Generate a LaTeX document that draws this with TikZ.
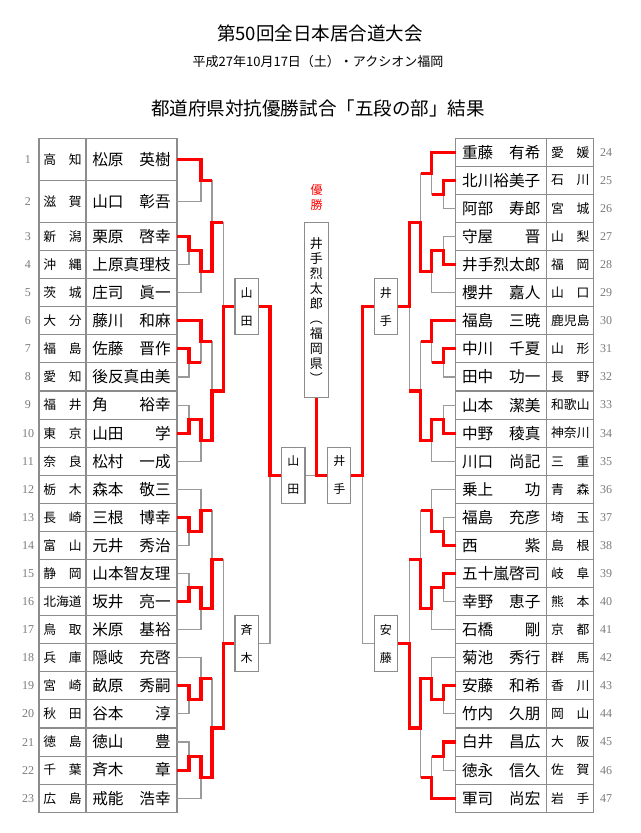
\documentclass[tikz,border=0pt]{standalone}
\usepackage{fontspec}
\setmainfont{Liberation Serif}
\newfontfamily\jp{Noto Sans CJK JP}
\definecolor{tabgray}{HTML}{8C8C8C}
\definecolor{brgray}{HTML}{9A9A9A}
\definecolor{numgray}{HTML}{7A7A7A}
\definecolor{wred}{HTML}{FF0000}
\newcommand\namefont{\jp\fontsize{11.7pt}{12pt}\selectfont}
\newcommand\preffont{\jp\fontsize{9.6pt}{10pt}\selectfont}
\newcommand\boxfont{\jp\fontsize{9pt}{21pt}\selectfont}
\newcommand\numfont{\fontsize{9pt}{10pt}\selectfont}
\newcommand\gm[3]{\draw[gl] (#2) -- (#2 -| #1) -- (#3 -| #1) -- (#3);}
\tikzset{
  cell/.style={draw=tabgray, line width=0.8pt, inner sep=0pt, minimum height=21.06pt},
  namec/.style={cell, minimum width=68.25pt, font=\namefont},
  prefc/.style={cell, minimum width=35.25pt, font=\preffont},
  num/.style={font=\numfont, text=numgray, inner sep=0pt},
  gl/.style={draw=brgray, line width=0.8pt},
  rl/.style={draw=wred, line width=2.3pt},
  bx/.style={draw=tabgray, fill=white, line width=0.8pt, minimum width=17.5pt, minimum height=42pt, inner sep=0pt, align=center, font=\boxfont},
}
\begin{document}
\begin{tikzpicture}[x=0.75pt,y=-0.75pt]
\useasboundingbox (0,0) rectangle (640,833);
% titles
\node (title) at (320,33) {\jp\fontsize{13.9pt}{14pt}\selectfont 第50回全日本居合道大会};
\node (sub) at (318,62) {\jp\fontsize{9.75pt}{10pt}\selectfont 平成27年10月17日（土）・アクシオン福岡};
\node (head) at (318,108) {\jp\fontsize{13.9pt}{14pt}\selectfont 都道府県対抗優勝試合「五段の部」結果};
% left table, tall rows
\node[prefc, minimum height=31.59pt] (p1) at (62.5,159.36) {\makebox[28.8pt]{高\hfill 知}};
\node[namec, minimum height=31.59pt] (n1) at (131.5,159.36) {\makebox[58.8pt]{松原\hfill 英樹}};
\node[num] (k1) at (28,159.36) {1};
\coordinate (t1) at (177,159.36);
\node[prefc, minimum height=31.59pt] (p2) at (62.5,201.48) {\makebox[28.8pt]{滋\hfill 賀}};
\node[namec, minimum height=31.59pt] (n2) at (131.5,201.48) {\makebox[58.8pt]{山口\hfill 彰吾}};
\node[num] (k2) at (28,201.48) {2};
\coordinate (t2) at (177,201.48);
\foreach \k/\p/\n in {3/新\hfill 潟/栗原\hfill 啓幸,4/沖\hfill 縄/上原真理枝,5/茨\hfill 城/庄司\hfill 眞一,6/大\hfill 分/藤川\hfill 和麻,7/福\hfill 島/佐藤\hfill 晋作,8/愛\hfill 知/後反真由美,9/福\hfill 井/角\hfill 裕幸,10/東\hfill 京/山田\hfill 学,11/奈\hfill 良/松村\hfill 一成,12/栃\hfill 木/森本\hfill 敬三,13/長\hfill 崎/三根\hfill 博幸,14/富\hfill 山/元井\hfill 秀治,15/静\hfill 岡/山本智友理,16/北海道/坂井\hfill 亮一,17/鳥\hfill 取/米原\hfill 基裕,18/兵\hfill 庫/隠岐\hfill 充啓,19/宮\hfill 崎/畝原\hfill 秀嗣,20/秋\hfill 田/谷本\hfill 淳,21/徳\hfill 島/徳山\hfill 豊,22/千\hfill 葉/斉木\hfill 章,23/広\hfill 島/戒能\hfill 浩幸}{
  \node[prefc] (p\k) at (62.5,{138.3+(\k+0.5)*28.08}) {\makebox[28.8pt]{\p}};
  \node[namec] (n\k) at (131.5,{138.3+(\k+0.5)*28.08}) {\makebox[58.8pt]{\n}};
  \node[num] (k\k) at (28,{138.3+(\k+0.5)*28.08}) {\k};
  \coordinate (t\k) at (177,{138.3+(\k+0.5)*28.08});
}
% right table
\foreach \k/\p/\n in {24/愛\hfill 媛/重藤\hfill 有希,25/石\hfill 川/北川裕美子,26/宮\hfill 城/阿部\hfill 寿郎,27/山\hfill 梨/守屋\hfill 晋,28/福\hfill 岡/井手烈太郎,29/山\hfill 口/櫻井\hfill 嘉人,30/鹿児島/福島\hfill 三暁,31/山\hfill 形/中川\hfill 千夏,32/長\hfill 野/田中\hfill 功一,33/和歌山/山本\hfill 潔美,34/神奈川/中野\hfill 稜真,35/三\hfill 重/川口\hfill 尚記,36/青\hfill 森/乗上\hfill 功,37/埼\hfill 玉/福島\hfill 充彦,38/島\hfill 根/西\hfill 紫,39/岐\hfill 阜/五十嵐啓司,40/熊\hfill 本/幸野\hfill 恵子,41/京\hfill 都/石橋\hfill 剛,42/群\hfill 馬/菊池\hfill 秀行,43/香\hfill 川/安藤\hfill 和希,44/岡\hfill 山/竹内\hfill 久朋,45/大\hfill 阪/白井\hfill 昌広,46/佐\hfill 賀/徳永\hfill 信久,47/岩\hfill 手/軍司\hfill 尚宏}{
  \node[namec] (n\k) at (501.2,{138.3+(\k-23.5)*28.08}) {\makebox[58.8pt]{\n}};
  \node[prefc] (p\k) at (570.35,{138.3+(\k-23.5)*28.08}) {\makebox[28.8pt]{\p}};
  \node[num] (k\k) at (606,{138.3+(\k-23.5)*28.08}) {\k};
  \coordinate (t\k) at (455.7,{138.3+(\k-23.5)*28.08});
}
% boxes
\node[bx] (bL1) at (246.65,306.76) {山\\田};
\node[bx] (bL2) at (246.65,643.74) {斉\\木};
\node[bx] (bR1) at (385.95,306.78) {井\\手};
\node[bx] (bR2) at (385.95,643.74) {安\\藤};
\node[bx] (sL) at (293.35,475.25) {山\\田};
\node[bx] (sR) at (339.25,475.25) {井\\手};
\node[bx, minimum width=18pt, minimum height=131.25pt, font=\jp\fontsize{9.75pt}{11.25pt}\selectfont] (champ) at (316.3,310.2) {井\\手\\烈\\太\\郎\\︵\\福\\岡\\県\\︶};
\node[align=center, text=wred, font=\jp\fontsize{9pt}{10.9pt}\selectfont, inner sep=0pt] (yusho) at (316.5,197.3) {優\\勝};
% match junctions (left)
\coordinate (a1) at (201,180.42);
\coordinate (a2) at (189,250.62);
\coordinate (a3) at (201,271.68);
\coordinate (a4) at (212,222.5);
\coordinate (b1) at (189,362.94);
\coordinate (b2) at (201,341.88);
\coordinate (b3) at (189,419.1);
\coordinate (b4) at (201,440.16);
\coordinate (b5) at (212,391.02);
\coordinate (ab) at (223.3,306.76);
\coordinate (c1) at (189,531.42);
\coordinate (c2) at (201,510.36);
\coordinate (c3) at (189,587.58);
\coordinate (c4) at (201,608.64);
\coordinate (c5) at (212,559.5);
\coordinate (d1) at (189,699.9);
\coordinate (d2) at (201,678.84);
\coordinate (d3) at (189,756.06);
\coordinate (d4) at (201,777.12);
\coordinate (d5) at (212,727.98);
\coordinate (cd) at (223.3,643.74);
% right
\coordinate (e1) at (443.6,194.46);
\coordinate (e2) at (431.6,173.4);
\coordinate (e3) at (443.6,250.62);
\coordinate (e4) at (431.6,271.68);
\coordinate (e5) at (420.6,222.54);
\coordinate (f1) at (443.6,362.94);
\coordinate (f2) at (431.6,341.88);
\coordinate (f3) at (443.6,419.1);
\coordinate (f4) at (431.6,440.16);
\coordinate (f5) at (420.6,391.02);
\coordinate (ef) at (409.3,306.78);
\coordinate (g1) at (443.6,531.42);
\coordinate (g2) at (431.6,510.36);
\coordinate (g3) at (443.6,587.58);
\coordinate (g4) at (431.6,608.64);
\coordinate (g5) at (420.6,559.5);
\coordinate (h1) at (443.6,699.9);
\coordinate (h2) at (431.6,678.84);
\coordinate (h3) at (443.6,756.06);
\coordinate (h4) at (431.6,777.12);
\coordinate (h5) at (420.6,727.98);
\coordinate (gh) at (409.3,643.74);
\coordinate (qL) at (270,475.25);
\coordinate (qR) at (362.6,475.25);
\coordinate (fin) at (316.3,475.25);
% gray bracket
\gm{a1}{t1}{t2} \gm{a2}{t3}{t4} \gm{a3}{a2}{t5} \gm{a4}{a1}{a3}
\gm{b1}{t7}{t8} \gm{b2}{t6}{b1} \gm{b3}{t9}{t10} \gm{b4}{b3}{t11} \gm{b5}{b2}{b4}
\gm{ab}{a4}{b5} \draw[gl] (ab) -- (bL1.west);
\gm{c1}{t13}{t14} \gm{c2}{t12}{c1} \gm{c3}{t15}{t16} \gm{c4}{c3}{t17} \gm{c5}{c2}{c4}
\gm{d1}{t19}{t20} \gm{d2}{t18}{d1} \gm{d3}{t21}{t22} \gm{d4}{d3}{t23} \gm{d5}{d2}{d4}
\gm{cd}{c5}{d5} \draw[gl] (cd) -- (bL2.west);
\gm{qL}{bL1.east}{bL2.east} \draw[gl] (qL) -- (sL.west);
\gm{e1}{t25}{t26} \gm{e2}{t24}{e1} \gm{e3}{t27}{t28} \gm{e4}{e3}{t29} \gm{e5}{e2}{e4}
\gm{f1}{t31}{t32} \gm{f2}{t30}{f1} \gm{f3}{t33}{t34} \gm{f4}{f3}{t35} \gm{f5}{f2}{f4}
\gm{ef}{e5}{f5} \draw[gl] (ef) -- (bR1.east);
\gm{g1}{t37}{t38} \gm{g2}{t36}{g1} \gm{g3}{t39}{t40} \gm{g4}{g3}{t41} \gm{g5}{g2}{g4}
\gm{h1}{t43}{t44} \gm{h2}{t42}{h1} \gm{h3}{t45}{t46} \gm{h4}{h3}{t47} \gm{h5}{h2}{h4}
\gm{gh}{g5}{h5} \draw[gl] (gh) -- (bR2.east);
\gm{qR}{bR1.west}{bR2.west} \draw[gl] (qR) -- (sR.east);
\draw[gl] (sL.east) -- (sR.west);
% red winner paths (left)
\draw[rl] (t1) -- (t1 -| a1) -- (a1) -- (a1 -| a4);
\draw[rl] (t3) -- (t3 -| a2) -- (a2) -- (a2 -| a3) -- (a3) -- (a3 -| a4) -- (a4) -- (a4 -| ab);
\draw[rl] (t6) -- (t6 -| b2) -- (b2) -- (b2 -| b5);
\draw[rl] (t7) -- (t7 -| b1) -- (b1) -- (b1 -| b2);
\draw[rl] (t10) -- (t10 -| b3) -- (b3) -- (b3 -| b4) -- (b4) -- (b4 -| b5) -- (b5) -- (b5 -| ab) -- (ab) -- (bL1.west);
\draw[rl] (bL1.east) -- (bL1.east -| qL) -- (qL) -- (sL.west);
\draw[rl] (t13) -- (t13 -| c1) -- (c1) -- (c1 -| c2) -- (c2) -- (c2 -| c5);
\draw[rl] (t16) -- (t16 -| c3) -- (c3) -- (c3 -| c4) -- (c4) -- (c4 -| c5) -- (c5) -- (c5 -| cd);
\draw[rl] (t19) -- (t19 -| d1) -- (d1) -- (d1 -| d2) -- (d2) -- (d2 -| d5);
\draw[rl] (t22) -- (t22 -| d3) -- (d3) -- (d3 -| d4) -- (d4) -- (d4 -| d5) -- (d5) -- (d5 -| cd) -- (cd) -- (bL2.west);
% red winner paths (right)
\draw[rl] (t24) -- (t24 -| e2) -- (e2) -- (e2 -| e5);
\draw[rl] (t25) -- (t25 -| e1) -- (e1) -- (e1 -| e2);
\draw[rl] (t28) -- (t28 -| e3) -- (e3) -- (e3 -| e4) -- (e4) -- (e4 -| e5) -- (e5) -- (e5 -| ef) -- (ef) -- (bR1.east);
\draw[rl] (bR1.west) -- (bR1.west -| qR) -- (qR) -- (sR.east);
\draw[rl] (sR.west) -- (fin) -- (champ.south);
\draw[rl] (t30) -- (t30 -| f2) -- (f2) -- (f2 -| f5);
\draw[rl] (t31) -- (t31 -| f1) -- (f1) -- (f1 -| f2);
\draw[rl] (t34) -- (t34 -| f3) -- (f3) -- (f3 -| f4) -- (f4) -- (f4 -| f5) -- (f5) -- (f5 -| ef);
\draw[rl] (t38) -- (t38 -| g1) -- (g1) -- (g1 -| g2) -- (g2) -- (g2 -| g5);
\draw[rl] (t39) -- (t39 -| g3) -- (g3) -- (g3 -| g4) -- (g4) -- (g4 -| g5) -- (g5) -- (g5 -| gh);
\draw[rl] (t43) -- (t43 -| h1) -- (h1) -- (h1 -| h2) -- (h2) -- (h2 -| h5) -- (h5) -- (h5 -| gh) -- (gh) -- (bR2.east);
\draw[rl] (t45) -- (t45 -| h3) -- (h3) -- (h3 -| h4);
\draw[rl] (t47) -- (t47 -| h4) -- (h4) -- (h4 -| h5);
\end{tikzpicture}
\end{document}
